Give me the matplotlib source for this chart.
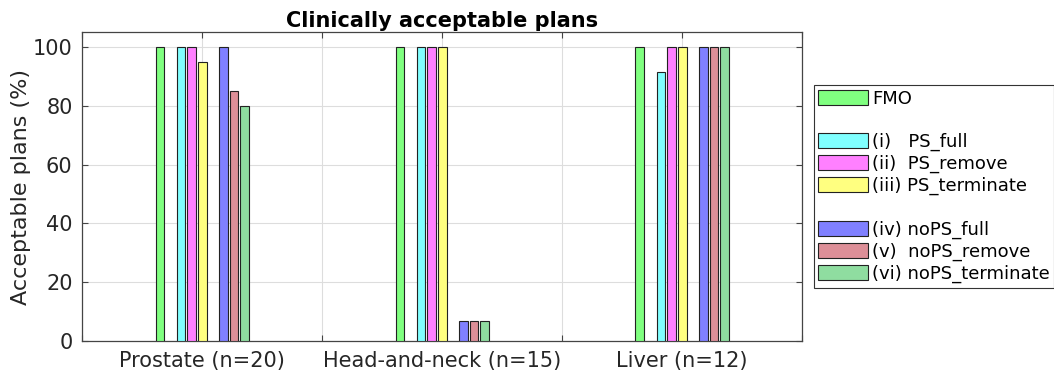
import numpy as np
import matplotlib
matplotlib.use('Agg')
import matplotlib.pyplot as plt
from matplotlib.patches import Patch

categories = ['Prostate (n=20)', 'Head-and-neck (n=15)', 'Liver (n=12)']
series_names = ['FMO', '(i)   PS_full', '(ii)  PS_remove', '(iii) PS_terminate',
                '(iv) noPS_full', '(v)  noPS_remove', '(vi) noPS_terminate']
fmo = [100, 100, 100]
ps_full = [100, 100, 91.67]
ps_remove = [100, 100, 100]
ps_terminate = [95, 100, 100]
nops_full = [100, 6.67, 100]
nops_remove = [85, 6.67, 100]
nops_terminate = [80, 6.67, 100]

values = [fmo, ps_full, ps_remove, ps_terminate, nops_full, nops_remove, nops_terminate]
colors = ['#80ff80', '#80ffff', '#ff80ff', '#ffff80', '#8080ff', '#dd8f98', '#8fdda0']
slots = [-4, -2, -1, 0, 2, 3, 4]   # empty slots separate the three method families

fig = plt.figure(figsize=(10.54, 3.74), dpi=100)
ax = fig.add_axes([0.0781, 0.0882, 0.683, 0.8254])

x = np.arange(1, len(categories) + 1)
step = 0.0442
width = 0.036
handles = []
for vals, col, s, name in zip(values, colors, slots, series_names):
    b = ax.bar(x + s * step, vals, width, color=col, edgecolor='#222222',
               linewidth=0.8, zorder=3, label=name)
    handles.append(b)

ax.set_xlim(0.5, 3.5)
ax.set_ylim(0, 105)
ax.set_xticks(np.arange(0.5, 3.51, 0.5))
ax.set_xticklabels(['', categories[0], '', categories[1], '', categories[2], ''])
ax.set_yticks(np.arange(0, 101, 20))
ax.tick_params(direction='in', top=True, right=True, length=4, width=0.8,
               color='#444444', labelsize=15, labelcolor='#262626', pad=7)
ax.grid(True, color='#dddddd', linewidth=0.8, zorder=0)
ax.set_axisbelow(True)
for sp in ax.spines.values():
    sp.set_color('#444444')
    sp.set_linewidth(0.9)

ax.set_ylabel('Acceptable plans (%)', fontsize=16, color='#262626', labelpad=1)
ax.set_title('Clinically acceptable plans', fontsize=15, fontweight='bold', pad=4)

blank = Patch(facecolor='none', edgecolor='none', label=' ')
leg_handles = [handles[0], blank, handles[1], handles[2], handles[3], blank,
               handles[4], handles[5], handles[6]]
leg_labels = [series_names[0], ' ', series_names[1], series_names[2], series_names[3], ' ',
              series_names[4], series_names[5], series_names[6]]
leg = fig.legend(leg_handles, leg_labels, loc='upper left',
                 bbox_to_anchor=(0.772, 0.7727), bbox_transform=fig.transFigure,
                 fontsize=13, handlelength=2.77, handleheight=0.9, handletextpad=0.2,
                 labelspacing=0.21, borderpad=0.25, borderaxespad=0, fancybox=False,
                 framealpha=1, edgecolor='#333333')
leg.get_frame().set_linewidth(0.8)

fig.savefig('out.png', dpi=100)
